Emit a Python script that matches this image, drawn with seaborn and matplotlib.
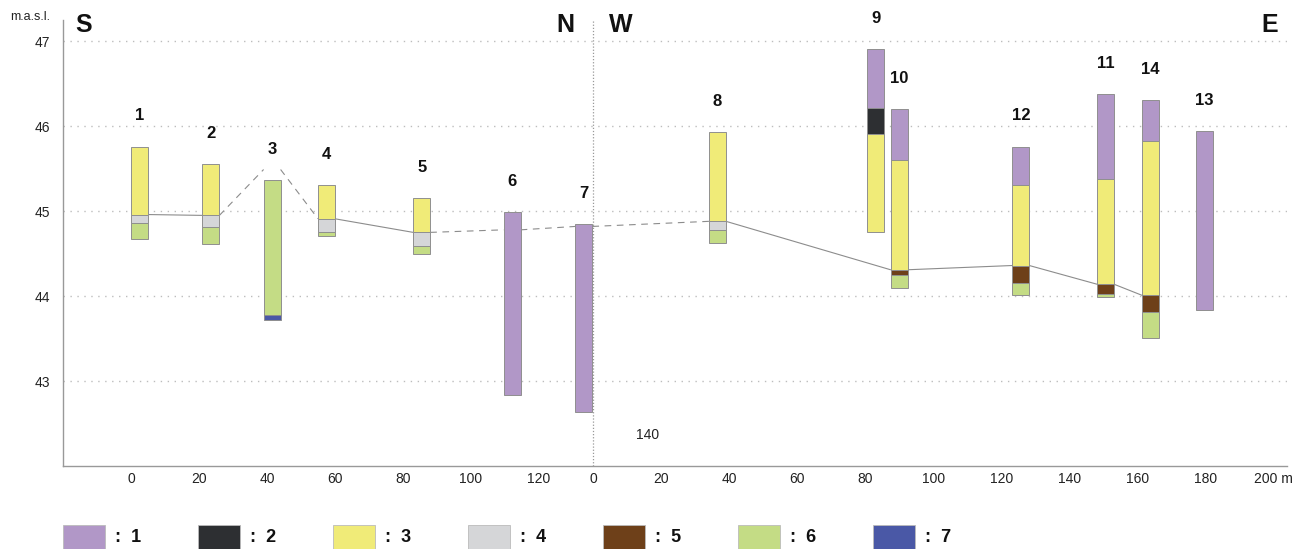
import matplotlib
matplotlib.use("Agg")
import matplotlib.pyplot as plt
from matplotlib.patches import Rectangle
from matplotlib.ticker import MultipleLocator
import seaborn as sns

# boreholes: name, profile section, distance along section (m)
bh_names = ["1", "2", "3", "4", "5", "6", "7", "8", "9", "10", "12", "11", "14", "13"]
bh_section = ["SN", "SN", "SN", "SN", "SN", "SN", "SN", "WE", "WE", "WE", "WE", "WE", "WE", "WE"]
bh_dist = [0, 21, 39, 55, 83, 109.6, 130.7, 34, 80.5, 87.4, 123.2, 148.1, 161.3, 177.1]

# layer boundaries (m a.s.l., top to bottom) and layer codes in between
bh_bounds = [
    [45.76, 44.96, 44.86, 44.67],
    [45.55, 44.95, 44.81, 44.61],
    [45.37, 43.78, 43.72],
    [45.31, 44.91, 44.76, 44.71],
    [45.15, 44.75, 44.59, 44.50],
    [44.99, 42.83],
    [44.85, 42.64],
    [45.93, 44.88, 44.78, 44.63],
    [46.91, 46.21, 45.91, 44.76],
    [46.20, 45.60, 44.31, 44.25, 44.10],
    [45.76, 45.31, 44.36, 44.16, 44.01],
    [46.38, 45.38, 44.14, 44.03, 43.99],
    [46.31, 45.82, 44.01, 43.81, 43.51],
    [45.94, 43.84],
]
bh_layers = [
    [3, 4, 6], [3, 4, 6], [6, 7], [3, 4, 6], [3, 4, 6], [1], [1],
    [3, 4, 6], [1, 2, 3], [1, 3, 5, 6], [1, 3, 5, 6], [1, 3, 5, 6], [1, 3, 5, 6], [1],
]

# correlated horizon between boreholes
horizon_bh = ["1", "2", "3", "4", "5", "6", "7", "8", "10", "12", "11", "14"]
horizon_z = [44.96, 44.95, 45.49, 44.91, 44.75, 44.78, 44.82, 44.88, 44.31, 44.36, 44.14, 44.01]
horizon_link = ["solid", "dashed", "dashed", "solid", "dashed", "dashed", "dashed",
                "solid", "solid", "solid", "solid"]

layer_codes = [1, 2, 3, 4, 5, 6, 7]
layer_colors = ["#b197c7", "#2d2f32", "#f0eb78", "#d5d6d8", "#6e4019", "#c4dc85", "#4a58a6"]

sn_ticks = [0, 20, 40, 60, 80, 100, 120]
we_ticks = [0, 20, 40, 60, 80, 100, 120, 140, 160, 180, 200]

SEC_OFFSET = 136  # where the W-E section starts on the drawing
COL_W = 5

sns.set_style("white")
plt.rcParams['font.family'] = ['Liberation Sans', 'DejaVu Sans']

W, H = 1312, 549
fig = plt.figure(figsize=(W / 100, H / 100), dpi=100)
ax = fig.add_axes([63 / W, 83 / H, (1287 - 63) / W, (529 - 83) / H])

color_of = dict(zip(layer_codes, layer_colors))


def xpos(i):
    return bh_dist[i] + (SEC_OFFSET if bh_section[i] == "WE" else 0)


# horizon lines
for k in range(len(horizon_bh) - 1):
    a = bh_names.index(horizon_bh[k])
    b = bh_names.index(horizon_bh[k + 1])
    ls = "-" if horizon_link[k] == "solid" else (0, (6, 5))
    sns.lineplot(x=[xpos(a) + COL_W, xpos(b)], y=[horizon_z[k], horizon_z[k + 1]],
                 ax=ax, color="#8c8c8c", linewidth=0.8, linestyle=ls, legend=False,
                 sort=False, zorder=2)

# borehole columns
for i, name in enumerate(bh_names):
    x0 = xpos(i)
    bounds = bh_bounds[i]
    for j, code in enumerate(bh_layers[i]):
        top, bot = bounds[j], bounds[j + 1]
        ax.bar(x0, top - bot, bottom=bot, width=COL_W, align="edge",
               color=color_of[code], edgecolor="#8f8f8f", linewidth=0.7, zorder=3)
    ax.text(x0 + COL_W / 2, bounds[0] + 0.36, name, ha="center", va="center",
            fontsize=12, fontweight="bold", color="#111111")

# section divider
ax.axvline(SEC_OFFSET, color="#999999", linestyle=(0, (1, 1.5)), linewidth=0.9, zorder=1)

ax.set_xlim(-20, 340)
ax.set_ylim(42.0, 47.25)

xt = sn_ticks + [SEC_OFFSET + t for t in we_ticks]
xl = [str(t) for t in sn_ticks] + [str(t) for t in we_ticks]
xl[-1] = xl[-1] + " m"
ax.set_xticks(xt)
ax.set_xticklabels(xl)
ax.set_yticks([43, 44, 45, 46, 47])
ax.yaxis.set_minor_locator(MultipleLocator(0.5))

ax.tick_params(axis="both", which="both", direction="in", color="#999999",
               length=10, width=1, labelsize=10, labelcolor="#222222")
ax.tick_params(axis="x", pad=4)
ax.tick_params(axis="y", pad=9)
ax.tick_params(axis="x", which="minor", length=0)

ax.yaxis.grid(True, which="major", color="#bdbdbd", linestyle=(0, (1, 4)), linewidth=1)
ax.set_axisbelow(True)
for s in ["top", "right"]:
    ax.spines[s].set_visible(False)
for s in ["left", "bottom"]:
    ax.spines[s].set_color("#999999")
    ax.spines[s].set_linewidth(1)

# direction letters and stray label
for txt, xx in [("S", -13.8), ("N", 127.9), ("W", 144.1), ("E", 335)]:
    ax.text(xx, 47.19, txt, ha="center", va="center", fontsize=18, fontweight="bold",
            color="#111111", clip_on=False)
ax.text(151.8, 42.36, "140", ha="center", va="center", fontsize=10, color="#222222")

fig.text(30 / W, 1 - 17 / H, "m.a.s.l.", ha="center", va="center", fontsize=9, color="#222222")

# legend
for k, code in enumerate(layer_codes):
    lx = 63 + 135 * k
    fig.add_artist(Rectangle((lx / W, 0), 42 / W, 24 / H, transform=fig.transFigure,
                             facecolor=color_of[code], edgecolor="#bbbbbb", linewidth=0.6))
    fig.text((lx + 52) / W, 12 / H, ":  " + str(code), ha="left", va="center",
             fontsize=13, fontweight="bold", color="#111111")

fig.savefig("out.png", dpi=100)
